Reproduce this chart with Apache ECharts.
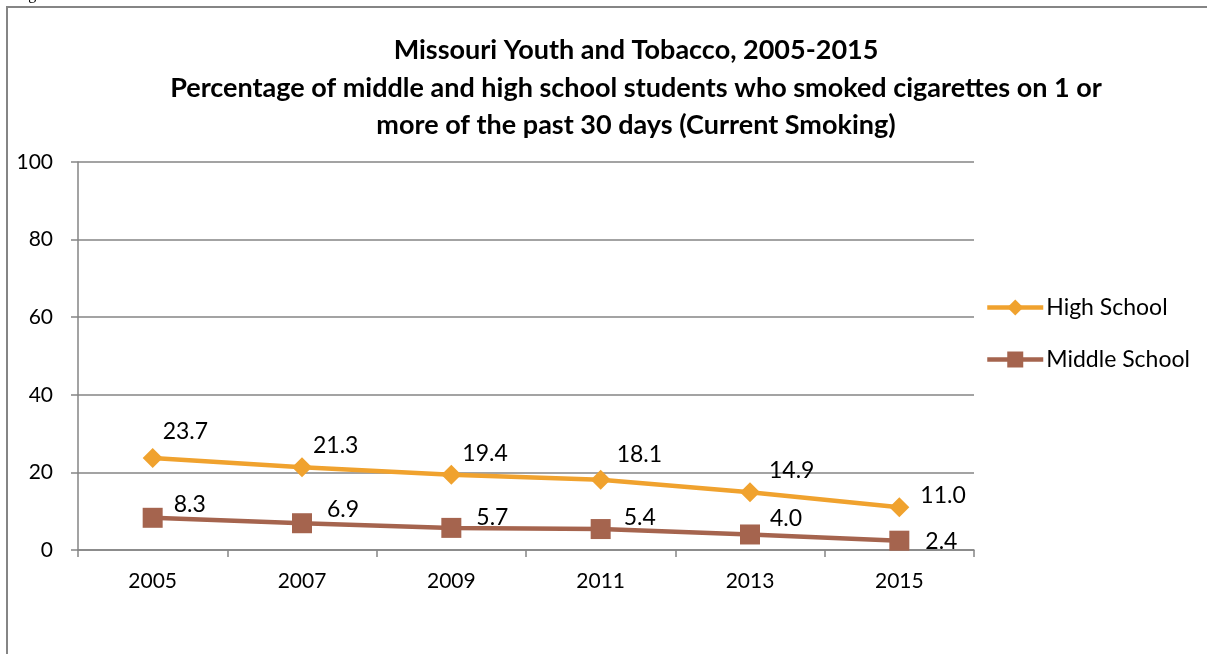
<!DOCTYPE html>
<html>
<head>
<meta charset="utf-8">
<script src="https://cdn.jsdelivr.net/npm/echarts@6/dist/echarts.min.js"></script>
<style>
html,body{margin:0;padding:0;background:#fff;}
#chart{width:1207px;height:654px;}
</style>
</head>
<body>
<div id="chart"></div>
<script>
const years = ['2005', '2007', '2009', '2011', '2013', '2015'];
const highSchool = [23.7, 21.3, 19.4, 18.1, 14.9, 11.0];
const middleSchool = [8.3, 6.9, 5.7, 5.4, 4.0, 2.4];
const yTicks = { min: 0, max: 100, interval: 20 };
const titleLines = [
  'Missouri Youth and Tobacco, 2005-2015',
  'Percentage of middle and high school students who smoked cigarettes on 1 or',
  'more of the past 30 days (Current Smoking)'
];

// label placement offsets (layout only)
const highLabelOffsets = [[0,-26],[1,-22],[1,-21],[6,-25],[9,-22],[11,-12]];
const middleLabelOffsets = [[11,-13],[15,-14],[15,-10],[13,-11],[10,-16],[16,1]];

const FONT = 'Lato, "Open Sans", sans-serif';
const GRAY = '#858585';

function build(values, offsets) {
  return values.map((v, i) => ({
    value: v,
    label: { offset: offsets[i] }
  }));
}

const chart = echarts.init(document.getElementById('chart'), null, { renderer: 'canvas' });
chart.setOption({
  animation: false,
  backgroundColor: '#fff',
  textStyle: { fontFamily: FONT },
  graphic: [
    { type: 'rect', shape: { x: 7, y: 7, width: 1400, height: 800 },
      style: { fill: 'none', stroke: GRAY, lineWidth: 2 }, silent: true },
    { type: 'text', left: 15, top: -13,
      style: { text: 'Figure', font: '16px "Liberation Serif", serif', fill: '#000' } }
  ],
  title: {
    text: titleLines.join('\n'),
    left: 631, top: 27,
    textAlign: 'center',
    textStyle: { fontFamily: FONT, fontSize: 27, fontWeight: 'bold', color: '#000', lineHeight: 37.5 }
  },
  legend: {
    orient: 'vertical',
    left: 980, top: 291,
    itemWidth: 56, itemHeight: 20, itemGap: 29,
    lineStyle: { width: 4.5 },
    textStyle: { fontFamily: FONT, fontSize: 23, color: '#000', padding: [0,0,0,-2] },
    data: ['High School', 'Middle School']
  },
  grid: { left: 78, right: 233, top: 162, bottom: 104, containLabel: false },
  xAxis: {
    type: 'category',
    data: years,
    boundaryGap: true,
    axisLine: { show: true, lineStyle: { color: GRAY, width: 1.5 } },
    axisTick: { show: true, length: 7, alignWithLabel: false, lineStyle: { color: GRAY, width: 1.5 } },
    axisLabel: { fontFamily: FONT, fontSize: 21, color: '#000', margin: 21 },
    splitLine: { show: false }
  },
  yAxis: {
    type: 'value',
    min: yTicks.min, max: yTicks.max, interval: yTicks.interval,
    axisLine: { show: true, lineStyle: { color: GRAY, width: 1.5 } },
    axisTick: { show: true, length: 7, lineStyle: { color: GRAY, width: 1.5 } },
    axisLabel: { fontFamily: FONT, fontSize: 21, color: '#000', margin: 25 },
    splitLine: { show: true, lineStyle: { color: GRAY, width: 1.5 } }
  },
  series: [
    {
      name: 'High School', type: 'line',
      data: build(highSchool, highLabelOffsets),
      symbol: 'diamond', symbolSize: 20,
      lineStyle: { color: '#F0A22E', width: 4.5 },
      itemStyle: { color: '#F0A22E' },
      label: { show: true, position: 'right', distance: 0, fontFamily: FONT, fontSize: 23, color: '#000',
        formatter: p => p.value.toFixed(1) }
    },
    {
      name: 'Middle School', type: 'line',
      data: build(middleSchool, middleLabelOffsets),
      symbol: 'rect', symbolSize: 20,
      lineStyle: { color: '#A5644E', width: 4.5 },
      itemStyle: { color: '#A5644E' },
      label: { show: true, position: 'right', distance: 0, fontFamily: FONT, fontSize: 23, color: '#000',
        formatter: p => p.value.toFixed(1) }
    }
  ]
});
</script>
</body>
</html>
